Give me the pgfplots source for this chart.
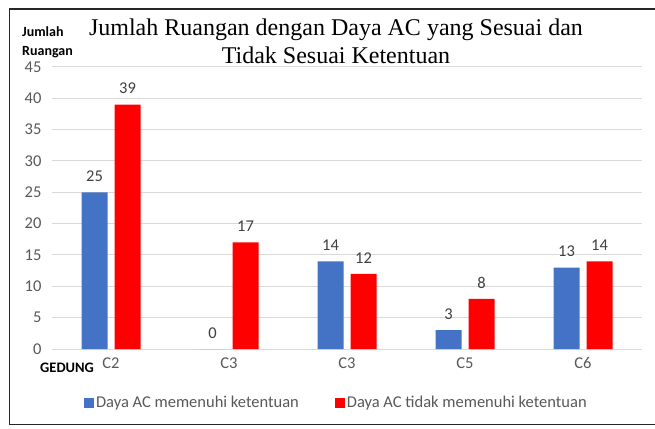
\documentclass[border=0pt]{standalone}
\usepackage{fontspec}
\setmainfont{Carlito}
\newfontfamily\titlefont{Liberation Serif}
\usepackage{pgfplots}
\pgfplotsset{compat=1.18}
\definecolor{cblue}{HTML}{4472C4}
\definecolor{cred}{HTML}{FF0000}
\definecolor{cgrid}{HTML}{D9D9D9}
\definecolor{ctick}{HTML}{595959}
\definecolor{clab}{HTML}{404040}
\begin{document}
\begin{tikzpicture}[x=1pt,y=1pt]
\useasboundingbox[fill=white] (0,0) rectangle (655,428);
\draw[line width=1.6pt,color=black!85] (660,419) -- (9.5,419) -- (9.5,3.5) -- (660,3.5);
\node[font=\titlefont\fontsize{24}{28}\selectfont, align=center] at (336,387) {Jumlah Ruangan dengan Daya AC yang Sesuai dan\\Tidak Sesuai Ketentuan};
\node[font=\bfseries\fontsize{14}{19}\selectfont, align=left, anchor=north west, inner sep=0pt] at (22,402) {Jumlah\\Ruangan};
\node[font=\bfseries\fontsize{14.5}{16}\selectfont, anchor=west, inner sep=0pt] at (40,60) {GEDUNG};
\begin{axis}[
  at={(52pt,79pt)}, anchor=south west,
  scale only axis, width=590pt, height=282pt,
  ybar=7pt, bar width=26pt,
  xmin=-0.5, xmax=4.5, ymin=0, ymax=45,
  xtick={0,1,2,3,4}, xticklabels={C2,C3,C3,C5,C6},
  ytick={0,5,...,45},
  axis line style={draw=none},
  major tick length=0pt,
  ymajorgrids, grid style={cgrid, line width=1pt},
  /pgf/number format/assume math mode=true,
  tick label style={font=\fontsize{16.5}{19}\selectfont, text=ctick},
  xticklabel style={yshift=-5pt},
  yticklabel style={xshift=-7pt},
  nodes near coords,
  every node near coord/.append style={font=\fontsize{16.5}{19}\selectfont, text=clab, yshift=7pt},
  legend columns=2,
  legend style={at={(0.482,-0.191)}, anchor=center, draw=none, fill=none,
    font=\fontsize{16.5}{19}\selectfont, text=ctick,
    /tikz/every even column/.append style={column sep=34pt}},
  legend image code/.code={\fill[#1] (0pt,-5pt) rectangle (10pt,5pt);},
  clip=false,
]
\addplot[fill=cblue, draw=none] coordinates {(0,25) (1,0) (2,14) (3,3) (4,13)};
\addplot[fill=cred, draw=none] coordinates {(0,39) (1,17) (2,12) (3,8) (4,14)};
\legend{Daya AC memenuhi ketentuan, Daya AC tidak memenuhi ketentuan}
\end{axis}
\end{tikzpicture}
\end{document}
